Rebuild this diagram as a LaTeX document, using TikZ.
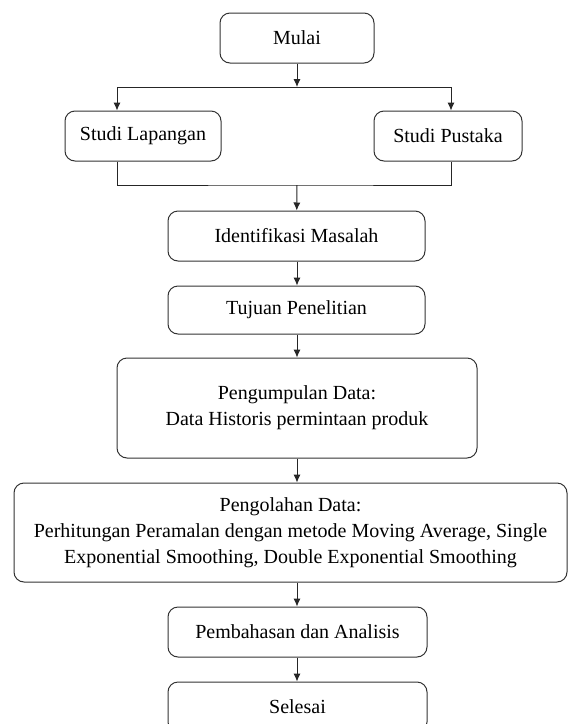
\documentclass[tikz,border=0pt]{standalone}
\usepackage{fontspec}
\setmainfont{Liberation Serif}
\usetikzlibrary{positioning, shapes, arrows.meta, calc}
\tikzset{>={Latex[length=4pt, width=3.6pt]}}

\begin{document}
\begin{tikzpicture}[x=0.5pt, y=-0.5pt]

\tikzstyle{proc}=[draw=black!80, line width=0.5pt, rounded corners=5pt, minimum height=25pt, align=center, inner sep=0pt, font=\fontsize{10}{13}\selectfont]
\tikzstyle{flow}=[draw=black!85, line width=0.5pt]

\useasboundingbox (0, 0) rectangle (568, 724);

% start
\node [proc, minimum width=77pt] (mulai) at (297, 38) {Mulai};

% studies
\node [proc, minimum width=78pt] (lapangan) at (143, 136) {Studi Lapangan};
\node [proc, minimum width=74pt] (pustaka) at (448, 136) {Studi Pustaka};

\coordinate (split) at (297, 87);
\coordinate (split-l) at (117, 87);
\coordinate (split-r) at (451, 87);
\coordinate (merge) at (297, 185);

\draw [flow, ->] (mulai) -- (split);
\draw [flow] (split-l) -- (split-r);
\draw [flow, ->] (split-l) -- (split-l |- lapangan.north);
\draw [flow, ->] (split-r) -- (split-r |- pustaka.north);
\draw [flow] (lapangan.south -| split-l) |- (merge) -| (pustaka.south -| split-r);

% main steps
\node [proc, minimum width=128.5pt] (identifikasi) at (296.5, 236) {Identifikasi Masalah};
\node [proc, minimum width=128.5pt, minimum height=24pt] (tujuan) at (296.5, 310) {Tujuan Penelitian};
\node [proc, minimum width=180pt, minimum height=50pt] (kumpul) at (297, 408) {Pengumpulan Data:\\Data Historis permintaan produk};
\node [proc, minimum width=276.5pt, minimum height=49.5pt] (olah) at (290.5, 532.5) {Pengolahan Data:\\Perhitungan Peramalan dengan metode Moving Average, Single\\Exponential Smoothing, Double Exponential Smoothing};
\node [proc, minimum width=129.5pt] (bahas) at (297.5, 632) {Pembahasan dan Analisis};
\node [proc, minimum width=129.5pt] (selesai) at (297.5, 707) {Selesai};

\draw [flow, ->] (merge) -- (identifikasi);
\foreach \a/\b in {identifikasi/tujuan, tujuan/kumpul, kumpul/olah, olah/bahas, bahas/selesai}
{
	\draw [flow, ->] (\a.south -| mulai) -- (\b.north -| mulai);
}

\end{tikzpicture}
\end{document}
